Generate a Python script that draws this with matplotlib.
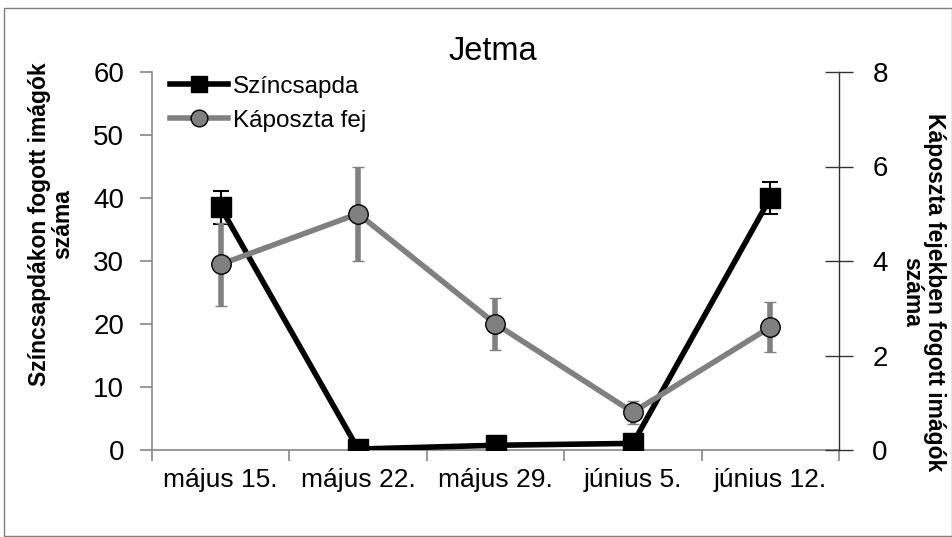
import numpy as np
import matplotlib
matplotlib.use("Agg")
import matplotlib.pyplot as plt
from matplotlib.patches import Rectangle
from matplotlib.lines import Line2D

plt.rcParams['font.family'] = ['Liberation Sans', 'DejaVu Sans']

dates = ["május 15.", "május 22.", "május 29.", "június 5.", "június 12."]

# Színcsapda (left axis)
trap = [38.5, 0.15, 0.75, 1.05, 40.0]
trap_err = [2.6, 0.0, 0.0, 0.0, 2.6]

# Káposzta fej (right axis)
cabbage = [3.93, 5.0, 2.67, 0.8, 2.6]
cabbage_err = [0.88, 1.0, 0.55, 0.24, 0.53]

fig = plt.figure(figsize=(9.53, 5.37), dpi=100)
ax = fig.add_axes([152/953, 87/537, 687/953, 378/537])
ax2 = ax.twinx()

x = np.arange(len(dates))

ax.errorbar(x, trap, yerr=trap_err, color='black', lw=4, marker='s', ms=14.5,
            mfc='black', mec='black', ecolor='black', elinewidth=1.5,
            capsize=6, capthick=1.5, zorder=3)
ax2.errorbar(x, cabbage, yerr=cabbage_err, color='#808080', lw=4, marker='o',
             ms=14, mfc='#808080', mec='black', mew=1, ecolor='#808080',
             elinewidth=4, capsize=4, capthick=4, zorder=3)

ax.set_xlim(-0.5, len(dates) - 0.5)
ax.set_ylim(0, 60)
ax2.set_ylim(0, 8)
ax.set_yticks(range(0, 61, 10))
ax2.set_yticks(range(0, 9, 2))
ax.set_xticks(x)
ax.set_xticklabels(dates)
ax.set_xticks(np.arange(-0.5, len(dates)), minor=True)
ax.tick_params(axis='x', which='major', length=0, pad=13, labelsize=19)
ax.tick_params(axis='x', which='minor', length=8, width=1.2, color='#868686')
ax.tick_params(axis='y', length=9, width=1.2, color='#868686', pad=11,
               labelsize=20)
ax2.tick_params(axis='y', direction='inout', length=20, width=1, color='#333333',
                pad=14, labelsize=20)

ax.spines['top'].set_visible(False)
ax2.spines['top'].set_visible(False)
ax.spines['right'].set_visible(False)
ax2.spines['left'].set_visible(False)
ax2.spines['bottom'].set_visible(False)
ax.spines['left'].set_color('#868686')
ax.spines['left'].set_linewidth(1.2)
ax.spines['bottom'].set_color('#868686')
ax.spines['bottom'].set_linewidth(1.2)
ax2.spines['right'].set_color('#333333')
ax2.spines['right'].set_linewidth(1)

fig.text(493/953, 1 - 52/537, "Jetma", ha='center', va='center', fontsize=23.5)

fig.text(51/953, 1 - 224/537, "Színcsapdákon fogott imágók\nszáma",
         rotation=90, ha='center', va='center', fontsize=16.5,
         fontweight='bold', multialignment='center', linespacing=1.0)
fig.text(923/953, 1 - 292/537, "Káposzta fejekben fogott imágók\nszáma",
         rotation=270, ha='center', va='center', fontsize=16.5,
         fontweight='bold', multialignment='center', linespacing=1.0)

handles = [
    Line2D([], [], color='black', lw=4, marker='s', ms=12, mfc='black'),
    Line2D([], [], color='#808080', lw=4, marker='o', ms=12, mfc='#808080',
           mec='black', mew=1),
]
ax2.legend(handles, ["Színcsapda", "Káposzta fej"], loc='upper left',
           bbox_to_anchor=(0.026, 0.99), frameon=False, fontsize=17.5,
           handlelength=2.4, handletextpad=0.2, labelspacing=0.5,
           borderpad=0, borderaxespad=0)

fig.patches.append(Rectangle((4/953, 1/537), 948/953, 528/537,
                             transform=fig.transFigure, fill=False,
                             edgecolor='#7f7f7f', lw=1))

fig.savefig("out.png", dpi=100)
